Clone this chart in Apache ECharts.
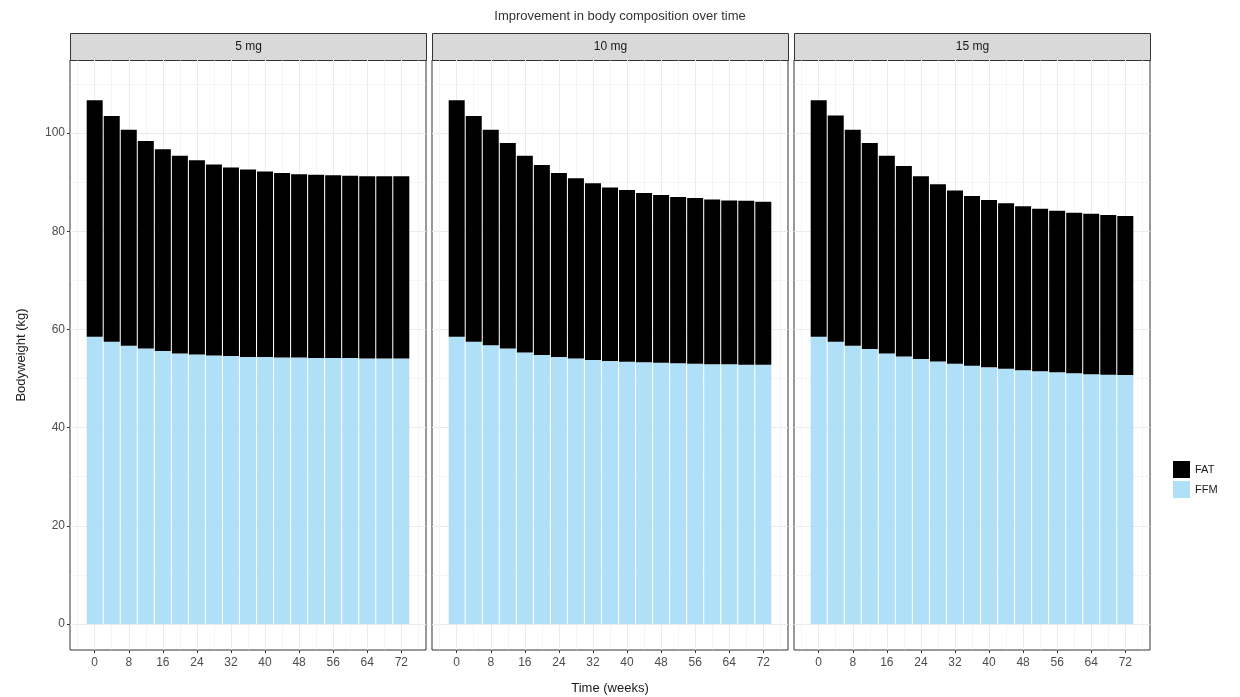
<!DOCTYPE html>
<html>
<head>
<meta charset="utf-8">
<script src="https://cdn.jsdelivr.net/npm/echarts@6/dist/echarts.min.js"></script>
<style>html,body{margin:0;background:#fff}#main{width:1240px;height:697px}</style>
</head>
<body>
<div id="main"></div>
<script>
// weeks on x, one bar every 4 weeks
var weeks = [0,4,8,12,16,20,24,28,32,36,40,44,48,52,56,60,64,68,72];
var doses = ['5 mg', '10 mg', '15 mg'];

// fat-free mass (kg)
var ffm5  = [58.5,57.5,56.7,56.1,55.6,55.1,54.9,54.7,54.6,54.4,54.4,54.3,54.3,54.2,54.2,54.2,54.1,54.1,54.1];
var ffm10 = [58.5,57.5,56.8,56.1,55.3,54.8,54.4,54.1,53.8,53.6,53.4,53.3,53.2,53.1,53.0,52.9,52.9,52.8,52.8];
var ffm15 = [58.5,57.5,56.7,56.0,55.1,54.5,54.0,53.5,53.0,52.6,52.3,52.0,51.7,51.5,51.3,51.1,50.9,50.8,50.7];
// fat mass (kg)
var fat5  = [48.2,46.0,44.0,42.3,41.1,40.3,39.6,38.9,38.4,38.2,37.8,37.6,37.3,37.3,37.2,37.1,37.1,37.1,37.1];
var fat10 = [48.2,46.0,43.9,41.9,40.1,38.7,37.5,36.7,36.0,35.3,35.0,34.5,34.2,33.9,33.8,33.6,33.4,33.4,33.2];
var fat15 = [48.2,46.1,44.0,42.0,40.3,38.8,37.2,36.1,35.3,34.6,34.1,33.7,33.4,33.1,32.9,32.7,32.7,32.5,32.4];

var xTicks = [0,8,16,24,32,40,48,56,64,72];
var xMinor = [-4,4,12,20,28,36,44,52,60,68,76];
var yTicks = [0,20,40,60,80,100];
var yMinor = [10,30,50,70,90,110];

var ffmData = [ffm5, ffm10, ffm15];
var fatData = [fat5, fat10, fat15];

var myChart = echarts.init(document.getElementById('main'));

var panelLeft = [70, 432, 794];
var panelW = 356;
var grids = [], xAxes = [], yAxes = [], series = [], graphics = [];

// rows are [kg, week] so the stack goes on the y value
function rows(vals){
    return weeks.map(function(w, i){ return [vals[i], w]; });
}

for (var i = 0; i < 3; i++) {
    grids.push({
        left: panelLeft[i], top: 60, width: panelW, height: 590,
        outerBoundsMode: 'none', containLabel: false,
        show: true, borderColor: '#333', borderWidth: 1, backgroundColor: '#fff'
    });
    xAxes.push({
        type: 'value', gridIndex: i, min: -5.8, max: 77.8, position: 'bottom',
        axisLine: {show: false, onZero: false},
        axisTick: {show: true, customValues: xTicks, length: 3, lineStyle: {color: '#333'}},
        axisLabel: {customValues: xTicks, color: '#4d4d4d', fontSize: 12, margin: 7, fontFamily: 'Liberation Sans'},
        splitLine: {show: false},
        name: i === 1 ? 'Time (weeks)' : '',
        nameLocation: 'middle', nameGap: 32,
        nameTextStyle: {color: '#1a1a1a', fontSize: 13, fontFamily: 'Liberation Sans'}
    });
    yAxes.push({
        type: 'value', gridIndex: i, min: -5.3, max: 114.9, position: 'left',
        axisLine: {show: false, onZero: false},
        axisTick: {show: i === 0, customValues: yTicks, length: 3, lineStyle: {color: '#333'}},
        axisLabel: {show: i === 0, customValues: yTicks, color: '#4d4d4d', fontSize: 12, margin: 5, fontFamily: 'Liberation Sans'},
        splitLine: {show: false},
        name: i === 0 ? 'Bodyweight (kg)' : '',
        nameLocation: 'middle', nameGap: 42, nameRotate: 90,
        nameTextStyle: {color: '#1a1a1a', fontSize: 13, fontFamily: 'Liberation Sans'}
    });

    // background grid lines
    var lines = [];
    xTicks.forEach(function(v){ lines.push({xAxis: v, lineStyle: {width: 1}}); });
    xMinor.forEach(function(v){ lines.push({xAxis: v, lineStyle: {width: 0.5}}); });
    yTicks.forEach(function(v){ lines.push({yAxis: v, lineStyle: {width: 1}}); });
    yMinor.forEach(function(v){ lines.push({yAxis: v, lineStyle: {width: 0.5}}); });
    series.push({
        type: 'line', xAxisIndex: i, yAxisIndex: i, data: [], z: 0, silent: true,
        markLine: {
            silent: true, symbol: 'none', animation: false, z: 0,
            label: {show: false},
            lineStyle: {color: '#ebebeb', type: 'solid'},
            data: lines
        }
    });

    series.push({
        name: 'FFM', type: 'bar', xAxisIndex: i, yAxisIndex: i, stack: 'bw' + i,
        encode: {x: 1, y: 0},
        barWidth: 16, itemStyle: {color: '#b0e0f7'}, z: 3,
        data: rows(ffmData[i])
    });
    series.push({
        name: 'FAT', type: 'bar', xAxisIndex: i, yAxisIndex: i, stack: 'bw' + i,
        encode: {x: 1, y: 0},
        barWidth: 16, itemStyle: {color: '#000'}, z: 3,
        data: rows(fatData[i])
    });

    // facet strip
    graphics.push({
        type: 'rect', left: panelLeft[i], top: 33,
        shape: {width: panelW, height: 27},
        style: {fill: '#d9d9d9', stroke: '#333', lineWidth: 1},
        textContent: {style: {text: doses[i], fill: '#1a1a1a', fontSize: 12, fontFamily: 'Liberation Sans'}},
        textConfig: {position: 'inside'}
    });
}

var option = {
    animation: false,
    backgroundColor: '#fff',
    title: {
        text: 'Improvement in body composition over time',
        left: 'center', top: 5,
        textStyle: {color: '#333', fontSize: 13, fontWeight: 'normal', fontFamily: 'Liberation Sans'}
    },
    legend: {
        data: ['FAT', 'FFM'],
        orient: 'vertical', left: 1168, top: 456,
        icon: 'rect', itemWidth: 17, itemHeight: 17, itemGap: 3,
        textStyle: {color: '#1a1a1a', fontSize: 11, fontFamily: 'Liberation Sans'}
    },
    grid: grids,
    xAxis: xAxes,
    yAxis: yAxes,
    graphic: graphics,
    series: series
};
myChart.setOption(option);
</script>
</body>
</html>
